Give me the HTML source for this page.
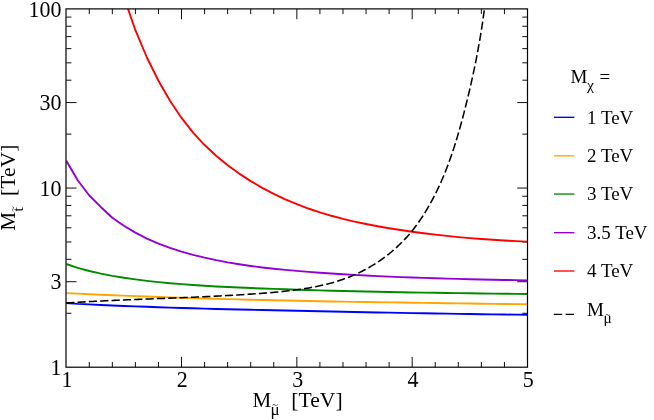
<!DOCTYPE html>
<html><head><meta charset="utf-8"><title>plot</title>
<style>
html,body{margin:0;padding:0;background:#fff;}
svg{display:block;will-change:transform;}
text{font-family:"Liberation Serif",serif;fill:#000;}
</style></head><body>
<svg width="654" height="420" viewBox="0 0 654 420">
<rect x="0" y="0" width="654" height="420" fill="#fff"/>
<path d="M89.27,367.20v-5.20M89.27,8.90v5.20M112.33,367.20v-5.20M112.33,8.90v5.20M135.40,367.20v-5.20M135.40,8.90v5.20M158.46,367.20v-5.20M158.46,8.90v5.20M181.53,367.20v-10.30M181.53,8.90v10.30M204.59,367.20v-5.20M204.59,8.90v5.20M227.66,367.20v-5.20M227.66,8.90v5.20M250.72,367.20v-5.20M250.72,8.90v5.20M273.78,367.20v-5.20M273.78,8.90v5.20M296.85,367.20v-10.30M296.85,8.90v10.30M319.92,367.20v-5.20M319.92,8.90v5.20M342.98,367.20v-5.20M342.98,8.90v5.20M366.05,367.20v-5.20M366.05,8.90v5.20M389.11,367.20v-5.20M389.11,8.90v5.20M412.18,367.20v-10.30M412.18,8.90v10.30M435.24,367.20v-5.20M435.24,8.90v5.20M458.31,367.20v-5.20M458.31,8.90v5.20M481.37,367.20v-5.20M481.37,8.90v5.20M504.44,367.20v-5.20M504.44,8.90v5.20M66.20,313.27h5.20M527.50,313.27h-5.20M66.20,281.72h10.30M527.50,281.72h-10.30M66.20,259.34h5.20M527.50,259.34h-5.20M66.20,241.98h5.20M527.50,241.98h-5.20M66.20,227.79h5.20M527.50,227.79h-5.20M66.20,215.80h5.20M527.50,215.80h-5.20M66.20,205.41h5.20M527.50,205.41h-5.20M66.20,196.25h5.20M527.50,196.25h-5.20M66.20,188.05h10.30M527.50,188.05h-10.30M66.20,134.12h5.20M527.50,134.12h-5.20M66.20,102.57h10.30M527.50,102.57h-10.30M66.20,80.19h5.20M527.50,80.19h-5.20M66.20,62.83h5.20M527.50,62.83h-5.20M66.20,48.64h5.20M527.50,48.64h-5.20M66.20,36.65h5.20M527.50,36.65h-5.20M66.20,26.26h5.20M527.50,26.26h-5.20M66.20,17.10h5.20M527.50,17.10h-5.20" stroke="#000" stroke-width="0.95" fill="none"/>
<clipPath id="c"><rect x="66.2" y="8.9" width="461.3" height="358.3"/></clipPath>
<g clip-path="url(#c)" fill="none" stroke-width="1.9" stroke-linejoin="round">
<path d="M66.20,303.00 L77.73,303.83 L89.27,304.40 L100.80,304.94 L112.33,305.45 L123.86,305.93 L135.40,306.38 L146.93,306.81 L158.46,307.21 L169.99,307.59 L181.53,307.95 L193.06,308.29 L204.59,308.62 L216.12,308.93 L227.66,309.22 L239.19,309.50 L250.72,309.77 L262.25,310.03 L273.78,310.29 L285.32,310.54 L296.85,310.78 L308.38,311.02 L319.92,311.27 L331.45,311.50 L342.98,311.74 L354.51,311.97 L366.05,312.20 L377.58,312.43 L389.11,312.65 L400.64,312.87 L412.18,313.08 L423.71,313.28 L435.24,313.48 L446.77,313.67 L458.31,313.86 L469.84,314.04 L481.37,314.21 L492.90,314.37 L504.44,314.53 L515.97,314.67 L527.50,314.81" stroke="#0000ff"/>
<path d="M66.20,293.10 L77.73,293.64 L89.27,294.18 L100.80,294.69 L112.33,295.19 L123.86,295.66 L135.40,296.11 L146.93,296.55 L158.46,296.97 L169.99,297.37 L181.53,297.75 L193.06,298.11 L204.59,298.46 L216.12,298.79 L227.66,299.11 L239.19,299.42 L250.72,299.71 L262.25,299.99 L273.78,300.26 L285.32,300.51 L296.85,300.75 L308.38,300.99 L319.92,301.21 L331.45,301.43 L342.98,301.63 L354.51,301.83 L366.05,302.02 L377.58,302.21 L389.11,302.39 L400.64,302.56 L412.18,302.73 L423.71,302.90 L435.24,303.06 L446.77,303.22 L458.31,303.37 L469.84,303.53 L481.37,303.68 L492.90,303.84 L504.44,303.99 L515.97,304.15 L527.50,304.30" stroke="#ffa500"/>
<path d="M66.20,264.00 L77.73,267.81 L89.27,271.00 L100.80,273.68 L112.33,275.92 L123.86,277.81 L135.40,279.42 L146.93,280.83 L158.46,282.08 L169.99,283.19 L181.53,284.17 L193.06,285.03 L204.59,285.78 L216.12,286.45 L227.66,287.04 L239.19,287.57 L250.72,288.05 L262.25,288.49 L273.78,288.91 L285.32,289.31 L296.85,289.68 L308.38,290.04 L319.92,290.37 L331.45,290.69 L342.98,290.99 L354.51,291.27 L366.05,291.53 L377.58,291.78 L389.11,292.02 L400.64,292.24 L412.18,292.44 L423.71,292.64 L435.24,292.82 L446.77,293.00 L458.31,293.16 L469.84,293.32 L481.37,293.47 L492.90,293.61 L504.44,293.74 L515.97,293.87 L527.50,294.00" stroke="#008b00"/>
<path d="M66.20,160.60 L77.70,180.20 L89.30,195.50 L100.80,206.95 L112.33,217.70 L123.86,225.80 L135.40,232.66 L146.93,238.55 L158.46,243.57 L169.99,247.88 L181.53,251.58 L193.06,254.81 L204.59,257.66 L216.12,260.17 L227.66,262.37 L239.19,264.30 L250.72,265.98 L262.25,267.44 L273.78,268.73 L285.32,269.87 L296.85,270.90 L308.38,271.83 L319.92,272.70 L331.45,273.50 L342.98,274.24 L354.51,274.91 L366.05,275.53 L377.58,276.10 L389.11,276.61 L400.64,277.09 L412.18,277.52 L423.71,277.91 L435.24,278.27 L446.77,278.60 L458.31,278.91 L469.84,279.19 L481.37,279.45 L492.90,279.70 L504.44,279.94 L515.97,280.17 L527.50,280.40" stroke="#9400d3"/>
<path d="M123.90,-3.05 L135.40,30.20 L146.90,57.50 L158.46,80.74 L169.99,100.79 L181.53,117.93 L193.06,132.54 L204.59,145.04 L216.12,155.79 L227.66,165.20 L239.19,173.59 L250.72,181.10 L262.25,187.85 L273.78,193.91 L285.32,199.34 L296.85,204.19 L308.38,208.52 L319.92,212.37 L331.45,215.79 L342.98,218.85 L354.51,221.57 L366.05,224.00 L377.58,226.20 L389.11,228.19 L400.64,230.03 L412.18,231.71 L423.71,233.25 L435.24,234.66 L446.77,235.93 L458.31,237.08 L469.84,238.10 L481.37,239.01 L492.90,239.81 L504.44,240.50 L515.97,241.10 L527.50,241.60" stroke="#ff0000"/>
<path d="M66.19,303.00 L68.23,302.87 L70.25,302.74 L72.28,302.61 L74.31,302.48 L76.33,302.36 L78.35,302.24 L80.38,302.12 L82.40,302.00 L84.41,301.88 L86.43,301.77 L88.45,301.66 L90.46,301.55 L92.47,301.44 L94.49,301.34 L96.50,301.23 L98.51,301.13 L100.51,301.03 L102.52,300.93 L104.53,300.83 L106.53,300.74 L108.54,300.64 L110.54,300.55 L112.54,300.46 L114.54,300.37 L116.54,300.28 L118.54,300.19 L120.54,300.11 L122.54,300.02 L124.54,299.94 L126.53,299.85 L128.53,299.77 L130.53,299.69 L132.52,299.60 L134.51,299.52 L136.51,299.44 L138.50,299.36 L140.49,299.28 L142.49,299.21 L144.48,299.13 L146.47,299.05 L148.46,298.97 L150.45,298.90 L152.44,298.82 L154.43,298.74 L156.42,298.67 L158.41,298.59 L160.40,298.51 L162.39,298.44 L164.38,298.36 L166.37,298.28 L168.36,298.20 L170.35,298.13 L172.34,298.05 L174.33,297.97 L176.32,297.89 L178.31,297.81 L180.30,297.73 L182.29,297.65 L184.28,297.57 L186.27,297.49 L188.26,297.40 L190.25,297.32 L192.24,297.24 L194.24,297.15 L196.23,297.06 L198.22,296.98 L200.22,296.89 L202.21,296.80 L204.21,296.71 L206.20,296.61 L208.20,296.52 L210.19,296.42 L212.19,296.33 L214.19,296.23 L216.19,296.13 L218.19,296.03 L220.19,295.92 L222.19,295.82 L224.20,295.71 L226.20,295.60 L228.20,295.49 L230.21,295.38 L232.22,295.27 L234.22,295.15 L236.23,295.03 L238.24,294.91 L240.26,294.79 L242.27,294.66 L244.28,294.53 L246.30,294.40 L248.31,294.27 L250.33,294.13 L252.35,294.00 L254.37,293.85 L256.39,293.71 L258.42,293.57 L260.44,293.42 L262.47,293.26 L264.50,293.11 L266.53,292.95 L268.55,292.79 L270.58,292.62 L272.62,292.44 L274.65,292.27 L276.68,292.08 L278.71,291.89 L280.73,291.69 L282.76,291.48 L284.79,291.27 L286.81,291.05 L288.84,290.82 L290.86,290.58 L292.88,290.33 L294.90,290.07 L296.91,289.80 L298.92,289.51 L300.93,289.22 L302.93,288.92 L304.94,288.60 L306.93,288.27 L308.93,287.93 L310.92,287.57 L312.90,287.20 L314.88,286.82 L316.85,286.42 L318.82,286.00 L320.79,285.57 L322.74,285.12 L324.70,284.66 L326.64,284.18 L328.58,283.68 L330.51,283.17 L332.44,282.63 L334.35,282.08 L336.26,281.50 L338.17,280.91 L340.06,280.30 L341.95,279.66 L343.82,279.01 L345.69,278.33 L347.55,277.63 L349.40,276.91 L351.24,276.17 L353.08,275.40 L354.90,274.61 L356.71,273.80 L358.51,272.96 L360.30,272.10 L362.08,271.21 L363.85,270.31 L365.60,269.38 L367.35,268.42 L369.08,267.45 L370.80,266.45 L372.50,265.43 L374.20,264.38 L375.88,263.32 L377.55,262.23 L379.20,261.12 L380.84,259.99 L382.46,258.84 L384.07,257.67 L385.67,256.48 L387.25,255.26 L388.81,254.03 L390.36,252.77 L391.90,251.49 L393.41,250.20 L394.91,248.88 L396.40,247.55 L397.86,246.19 L399.31,244.81 L400.74,243.42 L402.16,242.00 L403.55,240.57 L404.93,239.12 L406.28,237.64 L407.62,236.15 L408.94,234.64 L410.24,233.12 L411.52,231.57 L412.78,230.01 L414.02,228.43 L415.25,226.83 L416.45,225.22 L417.63,223.60 L418.80,221.96 L419.95,220.30 L421.08,218.64 L422.19,216.96 L423.29,215.27 L424.37,213.57 L425.43,211.86 L426.47,210.14 L427.50,208.41 L428.51,206.68 L429.51,204.93 L430.49,203.18 L431.46,201.43 L432.41,199.67 L433.34,197.90 L434.27,196.12 L435.17,194.34 L436.06,192.55 L436.94,190.76 L437.81,188.96 L438.66,187.16 L439.50,185.35 L440.32,183.54 L441.13,181.72 L441.93,179.89 L442.72,178.06 L443.50,176.22 L444.26,174.38 L445.01,172.54 L445.75,170.68 L446.48,168.83 L447.20,166.97 L447.91,165.10 L448.61,163.23 L449.29,161.36 L449.97,159.48 L450.64,157.60 L451.29,155.71 L451.94,153.82 L452.58,151.93 L453.21,150.03 L453.84,148.12 L454.45,146.22 L455.06,144.31 L455.65,142.39 L456.24,140.48 L456.83,138.56 L457.40,136.63 L457.97,134.71 L458.53,132.78 L459.09,130.85 L459.64,128.91 L460.18,126.97 L460.72,125.03 L461.25,123.09 L461.78,121.14 L462.30,119.19 L462.82,117.24 L463.33,115.29 L463.84,113.33 L464.34,111.37 L464.84,109.41 L465.34,107.45 L465.83,105.49 L466.32,103.53 L466.81,101.56 L467.29,99.59 L467.77,97.62 L468.24,95.65 L468.71,93.68 L469.18,91.70 L469.64,89.73 L470.10,87.75 L470.56,85.78 L471.01,83.80 L471.45,81.82 L471.89,79.84 L472.33,77.86 L472.76,75.88 L473.19,73.90 L473.61,71.92 L474.03,69.94 L474.44,67.96 L474.85,65.98 L475.26,64.00 L475.66,62.02 L476.05,60.04 L476.44,58.06 L476.83,56.08 L477.21,54.10 L477.58,52.12 L477.95,50.14 L478.31,48.17 L478.67,46.19 L479.03,44.22 L479.37,42.24 L479.72,40.27 L480.05,38.30 L480.39,36.33 L480.71,34.36 L481.03,32.39 L481.35,30.43 L481.66,28.46 L481.96,26.50 L482.25,24.54 L482.55,22.58 L482.83,20.62 L483.11,18.67 L483.38,16.72 L483.65,14.77 L483.91,12.82 L484.16,10.88 L484.41,8.93" stroke="#000000" stroke-dasharray="8.2 3.15" stroke-width="1.55"/>
</g>
<rect x="66.0" y="8.9" width="461.50" height="358.30" fill="none" stroke="#000" stroke-width="1.2"/>
<text transform="translate(67.00,386.6) scale(0.948,1)" font-size="23.2" text-anchor="middle">1</text>
<text transform="translate(182.33,386.6) scale(0.948,1)" font-size="23.2" text-anchor="middle">2</text>
<text transform="translate(297.65,386.6) scale(0.948,1)" font-size="23.2" text-anchor="middle">3</text>
<text transform="translate(412.98,386.6) scale(0.948,1)" font-size="23.2" text-anchor="middle">4</text>
<text transform="translate(528.30,386.6) scale(0.948,1)" font-size="23.2" text-anchor="middle">5</text>
<text transform="translate(61.5,374.80) scale(0.948,1)" font-size="23.2" text-anchor="end">1</text>
<text transform="translate(61.5,289.32) scale(0.948,1)" font-size="23.2" text-anchor="end">3</text>
<text transform="translate(61.5,195.65) scale(0.948,1)" font-size="23.2" text-anchor="end">10</text>
<text transform="translate(61.5,110.17) scale(0.948,1)" font-size="23.2" text-anchor="end">30</text>
<text transform="translate(61.5,16.50) scale(0.948,1)" font-size="23.2" text-anchor="end">100</text>
<text x="252.4" y="406.7" font-size="21">M</text>
<text x="270.4" y="415.3" font-size="17">μ</text>
<text x="272.3" y="408.3" font-size="10.5">~</text>
<text transform="translate(291.3,406.7) scale(1.03,1)" font-size="21">[TeV]</text>
<g transform="translate(15.2,230.4) rotate(-90)"><text x="0" y="0" font-size="21">M</text><text x="19" y="7.9" font-size="15.4">t</text><text x="18.6" y="0.5" font-size="10.5">~</text><text transform="translate(34.5,0) scale(1.03,1)" font-size="21">[TeV]</text></g>
<text transform="translate(570.6,83) scale(1.055,1)" font-size="18">M</text>
<text x="586.9" y="89.6" font-size="15.5">χ</text>
<text transform="translate(599.4,83.4) scale(1.055,1)" font-size="18">=</text>
<path d="M554,117.3H574.3" stroke="#0000ff" stroke-width="1.35" fill="none"/>
<text transform="translate(587,123.50) scale(1.055,1)" font-size="18">1 TeV</text>
<path d="M554,155.85H574.3" stroke="#ffa500" stroke-width="1.35" fill="none"/>
<text transform="translate(587,162.05) scale(1.055,1)" font-size="18">2 TeV</text>
<path d="M554,194.05H574.3" stroke="#008b00" stroke-width="1.35" fill="none"/>
<text transform="translate(587,200.25) scale(1.055,1)" font-size="18">3 TeV</text>
<path d="M554,232.7H574.3" stroke="#9400d3" stroke-width="1.35" fill="none"/>
<text transform="translate(587,238.90) scale(1.055,1)" font-size="18">3.5 TeV</text>
<path d="M554,271.0H574.3" stroke="#ff0000" stroke-width="1.35" fill="none"/>
<text transform="translate(587,277.20) scale(1.055,1)" font-size="18">4 TeV</text>
<path d="M553.8,314.4H574.3" stroke="#000" stroke-width="1.3" stroke-dasharray="8.4 3.4" fill="none"/>
<text transform="translate(587,316.1) scale(1.055,1)" font-size="18">M</text>
<text x="603.4" y="323.3" font-size="15.4">μ</text>
<text x="605.2" y="318.2" font-size="9.5">~</text>
</svg></body></html>
